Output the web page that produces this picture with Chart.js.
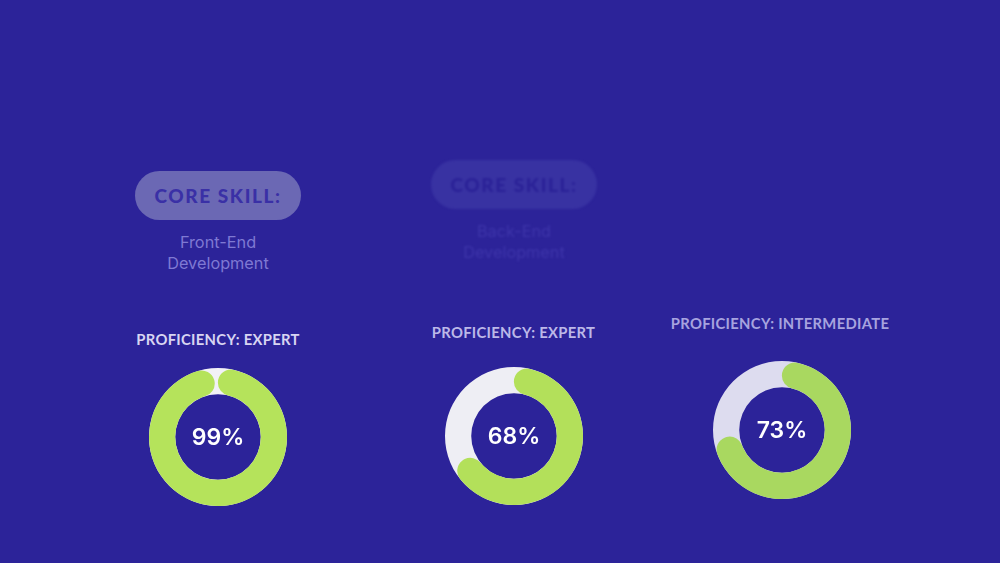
<!DOCTYPE html>
<html>
<head>
<meta charset="utf-8">
<script src="https://cdn.jsdelivr.net/npm/chart.js@4.4.0/dist/chart.umd.min.js"></script>
<style>
  html, body { margin: 0; padding: 0; }
  body {
    width: 1000px; height: 563px; overflow: hidden; position: relative;
    background: #2c2399; font-family: "Lato", "Inter", sans-serif;
  }
  .pill {
    position: absolute; height: 49px; border-radius: 25px;
    display: flex; align-items: center; justify-content: center;
    font-family: "Lato", sans-serif; font-weight: 900; font-size: 19px; letter-spacing: 1.6px;
  }
  .sub {
    position: absolute; width: 200px; text-align: center;
    font-family: "Inter", sans-serif; font-size: 16.3px; line-height: 21px;
  }
  .title {
    position: absolute; width: 260px; text-align: center;
    font-family: "Lato", sans-serif; font-weight: 700; font-size: 14.8px; letter-spacing: 0.3px;
  }
  canvas { position: absolute; }
</style>
</head>
<body>
<div id="stage"></div>
<script>
// skill cards (the second one is mid-transition, so faded)
const skillNames = ["Front-End\nDevelopment", "Back-End\nDevelopment"];
const proficiency = ["EXPERT", "EXPERT", "INTERMEDIATE"];
const percents = [99, 68, 73];

const trackColors = ["#f2f1f7", "#eeeef4", "#dddcef"];
const fillColors = ["#b5e35b", "#b3e05a", "#a9d860"];
const titleColors = ["#d8d5f2", "#bcb8e8", "#a7a3df"];

const stage = document.getElementById("stage");

// pills + sub text
const cards = [
  { x: 218, pillTop: 171, subTop: 232, pillBg: "#6b68b4", pillText: "#3a30a6", subColor: "#7f79d3", blur: 0 },
  { x: 514, pillTop: 160, subTop: 221, pillBg: "#3832a2", pillText: "#2a2197", subColor: "#3e35aa", blur: 1.2 }
];
cards.forEach((c, i) => {
  const pill = document.createElement("div");
  pill.className = "pill";
  pill.style.left = (c.x - 83) + "px";
  pill.style.top = c.pillTop + "px";
  pill.style.width = "166px";
  pill.style.background = c.pillBg;
  pill.style.color = c.pillText;
  pill.style.filter = c.blur ? `blur(${c.blur}px)` : "none";
  pill.textContent = "CORE SKILL:";
  stage.appendChild(pill);

  const sub = document.createElement("div");
  sub.className = "sub";
  sub.style.left = (c.x - 100) + "px";
  sub.style.top = c.subTop + "px";
  sub.style.color = c.subColor;
  sub.style.filter = c.blur ? `blur(${c.blur}px)` : "none";
  sub.innerHTML = skillNames[i].replace("\n", "<br>");
  stage.appendChild(sub);
});

// track ring behind the value arc + centre label
const ringPlugin = {
  id: "ring",
  beforeDatasetsDraw(chart, args, opts) {
    const arc = chart.getDatasetMeta(0).data[0];
    if (!arc) return;
    const { x, y, innerRadius, outerRadius } = arc.getProps(["x", "y", "innerRadius", "outerRadius"], true);
    const ctx = chart.ctx;
    ctx.save();
    ctx.beginPath();
    ctx.arc(x, y, outerRadius, 0, Math.PI * 2);
    ctx.arc(x, y, innerRadius, Math.PI * 2, 0, true);
    ctx.closePath();
    ctx.fillStyle = opts.track;
    ctx.fill();
    ctx.restore();
  },
  afterDatasetsDraw(chart, args, opts) {
    const arc = chart.getDatasetMeta(0).data[0];
    if (!arc) return;
    const ctx = chart.ctx;
    ctx.save();
    ctx.fillStyle = "#ffffff";
    ctx.font = "600 23px Inter, sans-serif";
    ctx.textAlign = "center";
    ctx.textBaseline = "middle";
    ctx.fillText(opts.label, arc.x, arc.y + 1);
    ctx.restore();
  }
};

const donuts = [
  { cx: 218, cy: 437, titleY: 330 },
  { cx: 513.5, cy: 435.5, titleY: 323 },
  { cx: 782, cy: 430, titleY: 314 }
];

donuts.forEach((d, i) => {
  const title = document.createElement("div");
  title.className = "title";
  title.style.left = (d.cx - 130 - (i === 2 ? 2 : 0)) + "px";
  title.style.top = d.titleY + "px";
  title.style.color = titleColors[i];
  title.textContent = "PROFICIENCY: " + proficiency[i];
  stage.appendChild(title);

  const size = 138;
  const canvas = document.createElement("canvas");
  canvas.width = size;
  canvas.height = size;
  canvas.style.left = (d.cx - size / 2) + "px";
  canvas.style.top = (d.cy - size / 2) + "px";
  stage.appendChild(canvas);

  new Chart(canvas.getContext("2d"), {
    type: "doughnut",
    data: {
      labels: ["skill", "rest"],
      datasets: [{
        data: [percents[i], 100 - percents[i]],
        backgroundColor: [fillColors[i], "rgba(0,0,0,0)"],
        borderWidth: 0,
        borderRadius: (ctx) => (ctx.dataIndex === 0 ? 40 : 0)
      }]
    },
    options: {
      responsive: false,
      animation: false,
      cutout: "62%",
      layout: { padding: 0 },
      plugins: {
        legend: { display: false },
        tooltip: { enabled: false },
        ring: { track: trackColors[i], label: percents[i] + "%" }
      }
    },
    plugins: [ringPlugin]
  });
});
</script>
</body>
</html>
